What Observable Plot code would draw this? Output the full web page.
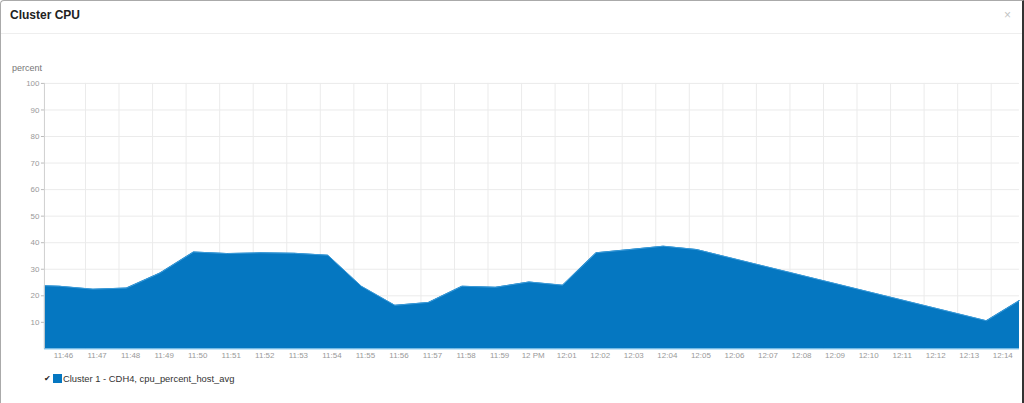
<!DOCTYPE html>
<html>
<head>
<meta charset="utf-8">
<script src="https://cdn.jsdelivr.net/npm/d3@7"></script>
<script src="https://cdn.jsdelivr.net/npm/@observablehq/plot@0.6"></script>
<style>
  html, body { margin: 0; padding: 0; background: #fff; }
  #panel {
    position: relative; width: 1024px; height: 403px; box-sizing: border-box;
    border-top: 1px solid #aaa; border-left: 1px solid #aaa; border-right: 2px solid #333;
    border-top-left-radius: 4px; overflow: hidden; background: #fff;
    font-family: "Liberation Sans", Arial, Helvetica, sans-serif;
  }
  #title { position: absolute; left: 9px; top: 7px; font-size: 12px; font-weight: bold; color: #222; }
  #close { position: absolute; left: 1003px; top: 7px; font-size: 12px; color: #c4c4c4; }
  #sep { position: absolute; left: 0; right: 0; top: 32px; height: 1px; background: #eee; }
  #ylabel { position: absolute; left: 11px; top: 62px; font-size: 9px; color: #777; }
  #chart { position: absolute; left: -1px; top: 39px; }
  #legend { position: absolute; left: 43px; top: 372px; font-size: 9.4px; color: #333; display: flex; align-items: center; }
  #legend .chk { font-size: 8px; color: #222; margin-right: 2px; }
  #legend .sw { width: 9px; height: 9px; background: #0577c1; margin-right: 1px; }
</style>
</head>
<body>
<div id="panel">
  <div id="title">Cluster CPU</div>
  <div id="close">×</div>
  <div id="sep"></div>
  <div id="ylabel">percent</div>
  <div id="chart"></div>
  <div id="legend"><span class="chk">✔</span><span class="sw"></span><span class="txt">Cluster 1 - CDH4, cpu_percent_host_avg</span></div>
</div>
<script>
// Sample times (HH:MM:SS) and CPU percent values
const sampleTimes = ["11:45:33","11:46:00","11:47:00","11:48:00","11:49:00","11:50:00","11:51:00","11:52:00","11:53:00","11:54:00","11:55:00","11:56:00","11:57:00","11:58:00","11:59:00","12:00:00","12:01:00","12:02:00","12:03:00","12:04:00","12:05:00","12:13:38","12:14:37"];
const cpuValues = [23.8, 23.6, 22.5, 22.9, 28.6, 36.5, 35.9, 36.2, 36.0, 35.3, 23.6, 16.4, 17.5, 23.6, 23.2, 25.2, 24.0, 36.2, 37.4, 38.7, 37.4, 10.6, 18.2];
const xTickTimes = ["11:46","11:47","11:48","11:49","11:50","11:51","11:52","11:53","11:54","11:55","11:56","11:57","11:58","11:59","12:00","12:01","12:02","12:03","12:04","12:05","12:06","12:07","12:08","12:09","12:10","12:11","12:12","12:13","12:14"];
const xTickLabels = ["11:46","11:47","11:48","11:49","11:50","11:51","11:52","11:53","11:54","11:55","11:56","11:57","11:58","11:59","12 PM","12:01","12:02","12:03","12:04","12:05","12:06","12:07","12:08","12:09","12:10","12:11","12:12","12:13","12:14"];
const yTicks = [10, 20, 30, 40, 50, 60, 70, 80, 90, 100];

function toDate(s) {
  const p = s.split(":").map(Number);
  return new Date(Date.UTC(2014, 0, 1, p[0], p[1], p[2] || 0));
}
const data = sampleTimes.map((t, i) => ({t: toDate(t), v: cpuValues[i]}));
const tickDates = xTickTimes.map(toDate);
const labelMap = new Map(tickDates.map((d, i) => [+d, xTickLabels[i]]));
const blue = "#0577c1";

const chart = Plot.plot({
  width: 1024,
  height: 329,
  marginLeft: 44,
  marginRight: 3,
  marginTop: 43,
  marginBottom: 20,
  style: {fontFamily: "'Liberation Sans', Arial, sans-serif", fontSize: "8px", color: "#999", background: "transparent", overflow: "visible"},
  x: {type: "utc", domain: [data[0].t, data[data.length - 1].t]},
  y: {domain: [0, 100]},
  marks: [
    Plot.gridY({ticks: yTicks, stroke: "#ebebeb", strokeOpacity: 1}),
    Plot.gridX({ticks: tickDates, dx: 26, stroke: "#ebebeb", strokeOpacity: 1}),
    Plot.areaY(data, {x: "t", y: "v", fill: blue}),
    Plot.lineY(data, {x: "t", y: "v", stroke: "#3a9ad8", strokeWidth: 1}),
    Plot.ruleY([0], {stroke: "#6db9e8"}),
    Plot.ruleX([data[0].t], {y1: 0, y2: 100, stroke: "#cfcfcf"}),
    Plot.axisY({ticks: yTicks, tickSize: 3, tickPadding: 2, label: null, stroke: "#bbb", fill: "#999"}),
    Plot.axisX({ticks: tickDates, tickFormat: d => labelMap.get(+d), tickSize: 0, tickPadding: 3, dx: 4, label: null, fill: "#999"})
  ]
});
document.getElementById("chart").appendChild(chart);
</script>
</body>
</html>
